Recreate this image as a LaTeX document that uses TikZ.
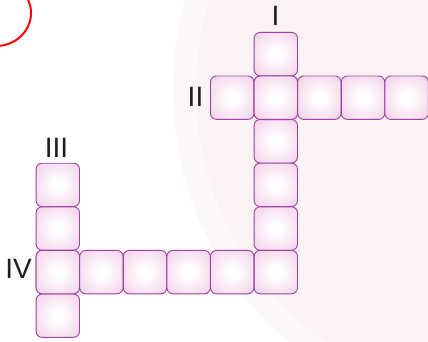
\documentclass[tikz,border=0pt]{standalone}
\usepackage{fontspec}
\setmainfont{Liberation Sans}
\definecolor{boxpink}{RGB}{236,184,222}
\definecolor{boxpinkdeep}{RGB}{224,152,206}
\definecolor{boxline}{RGB}{155,66,162}
\definecolor{wmouter}{RGB}{253,248,248}
\definecolor{wminner}{RGB}{251,243,243}
\definecolor{labelgray}{RGB}{30,30,30}
\pgfdeclareradialshading{boxglow}{\pgfpoint{0bp}{0bp}}{color(0bp)=(white); color(5bp)=(white); color(50bp)=(boxpink); color(70bp)=(boxpinkdeep); color(100bp)=(boxpinkdeep)}
\tikzset{
  cell/.style={draw=boxline, line width=0.9pt, rounded corners=6pt, shading=boxglow,
    minimum width=43.4pt, minimum height=43.4pt, inner sep=0pt, outer sep=0pt},
  roman/.style={font=\fontsize{28}{28}\selectfont, text=labelgray, inner sep=0pt},
}
\begin{document}
\begin{tikzpicture}[x=1pt,y=-1pt]
  \useasboundingbox (0,0) rectangle (428,341);
  % faint watermark discs
  \begin{scope}
    \clip (0,0) rectangle (428,341);
    \fill[wmouter] (506,90) circle (333);
    \fill[wminner] (506,90) circle (310);
    % red circle at top-left corner
    \draw[red, line width=2pt] (-4,13) ellipse [x radius=35, y radius=33];
  \end{scope}
  % grid cells: column 5 rows 0..5
  \foreach \r in {0,...,5} {
    \node[cell] (c5r\r) at ({36+43.6*5+21.8},{32.3+43.6*\r+21.8}) {};
  }
  % row 1: columns 4,6,7,8
  \foreach \c in {4,6,7,8} {
    \node[cell] (c\c r1) at ({36+43.6*\c+21.8},{32.3+43.6+21.8}) {};
  }
  % row 5: columns 1..4
  \foreach \c in {1,...,4} {
    \node[cell] (c\c r5) at ({36+43.6*\c+21.8},{32.3+43.6*5+21.8}) {};
  }
  % column 0 rows 3..6
  \foreach \r in {3,...,6} {
    \node[cell] (c0r\r) at ({36+21.8},{32.3+43.6*\r+21.8}) {};
  }
  % redraw shared cells on top
  \node[cell] (c5r1top) at (c5r1) {};
  \node[cell] (c0r5top) at (c0r5) {};
  % labels
  \node[roman] (lI) at (275.5,16) {I};
  \node[roman] (lII) at (195.5,97) {II};
  \node[roman] (lIII) at (56.5,147.5) {III};
  \node[roman] (lIV) at (18.5,268.5) {IV};
\end{tikzpicture}
\end{document}
